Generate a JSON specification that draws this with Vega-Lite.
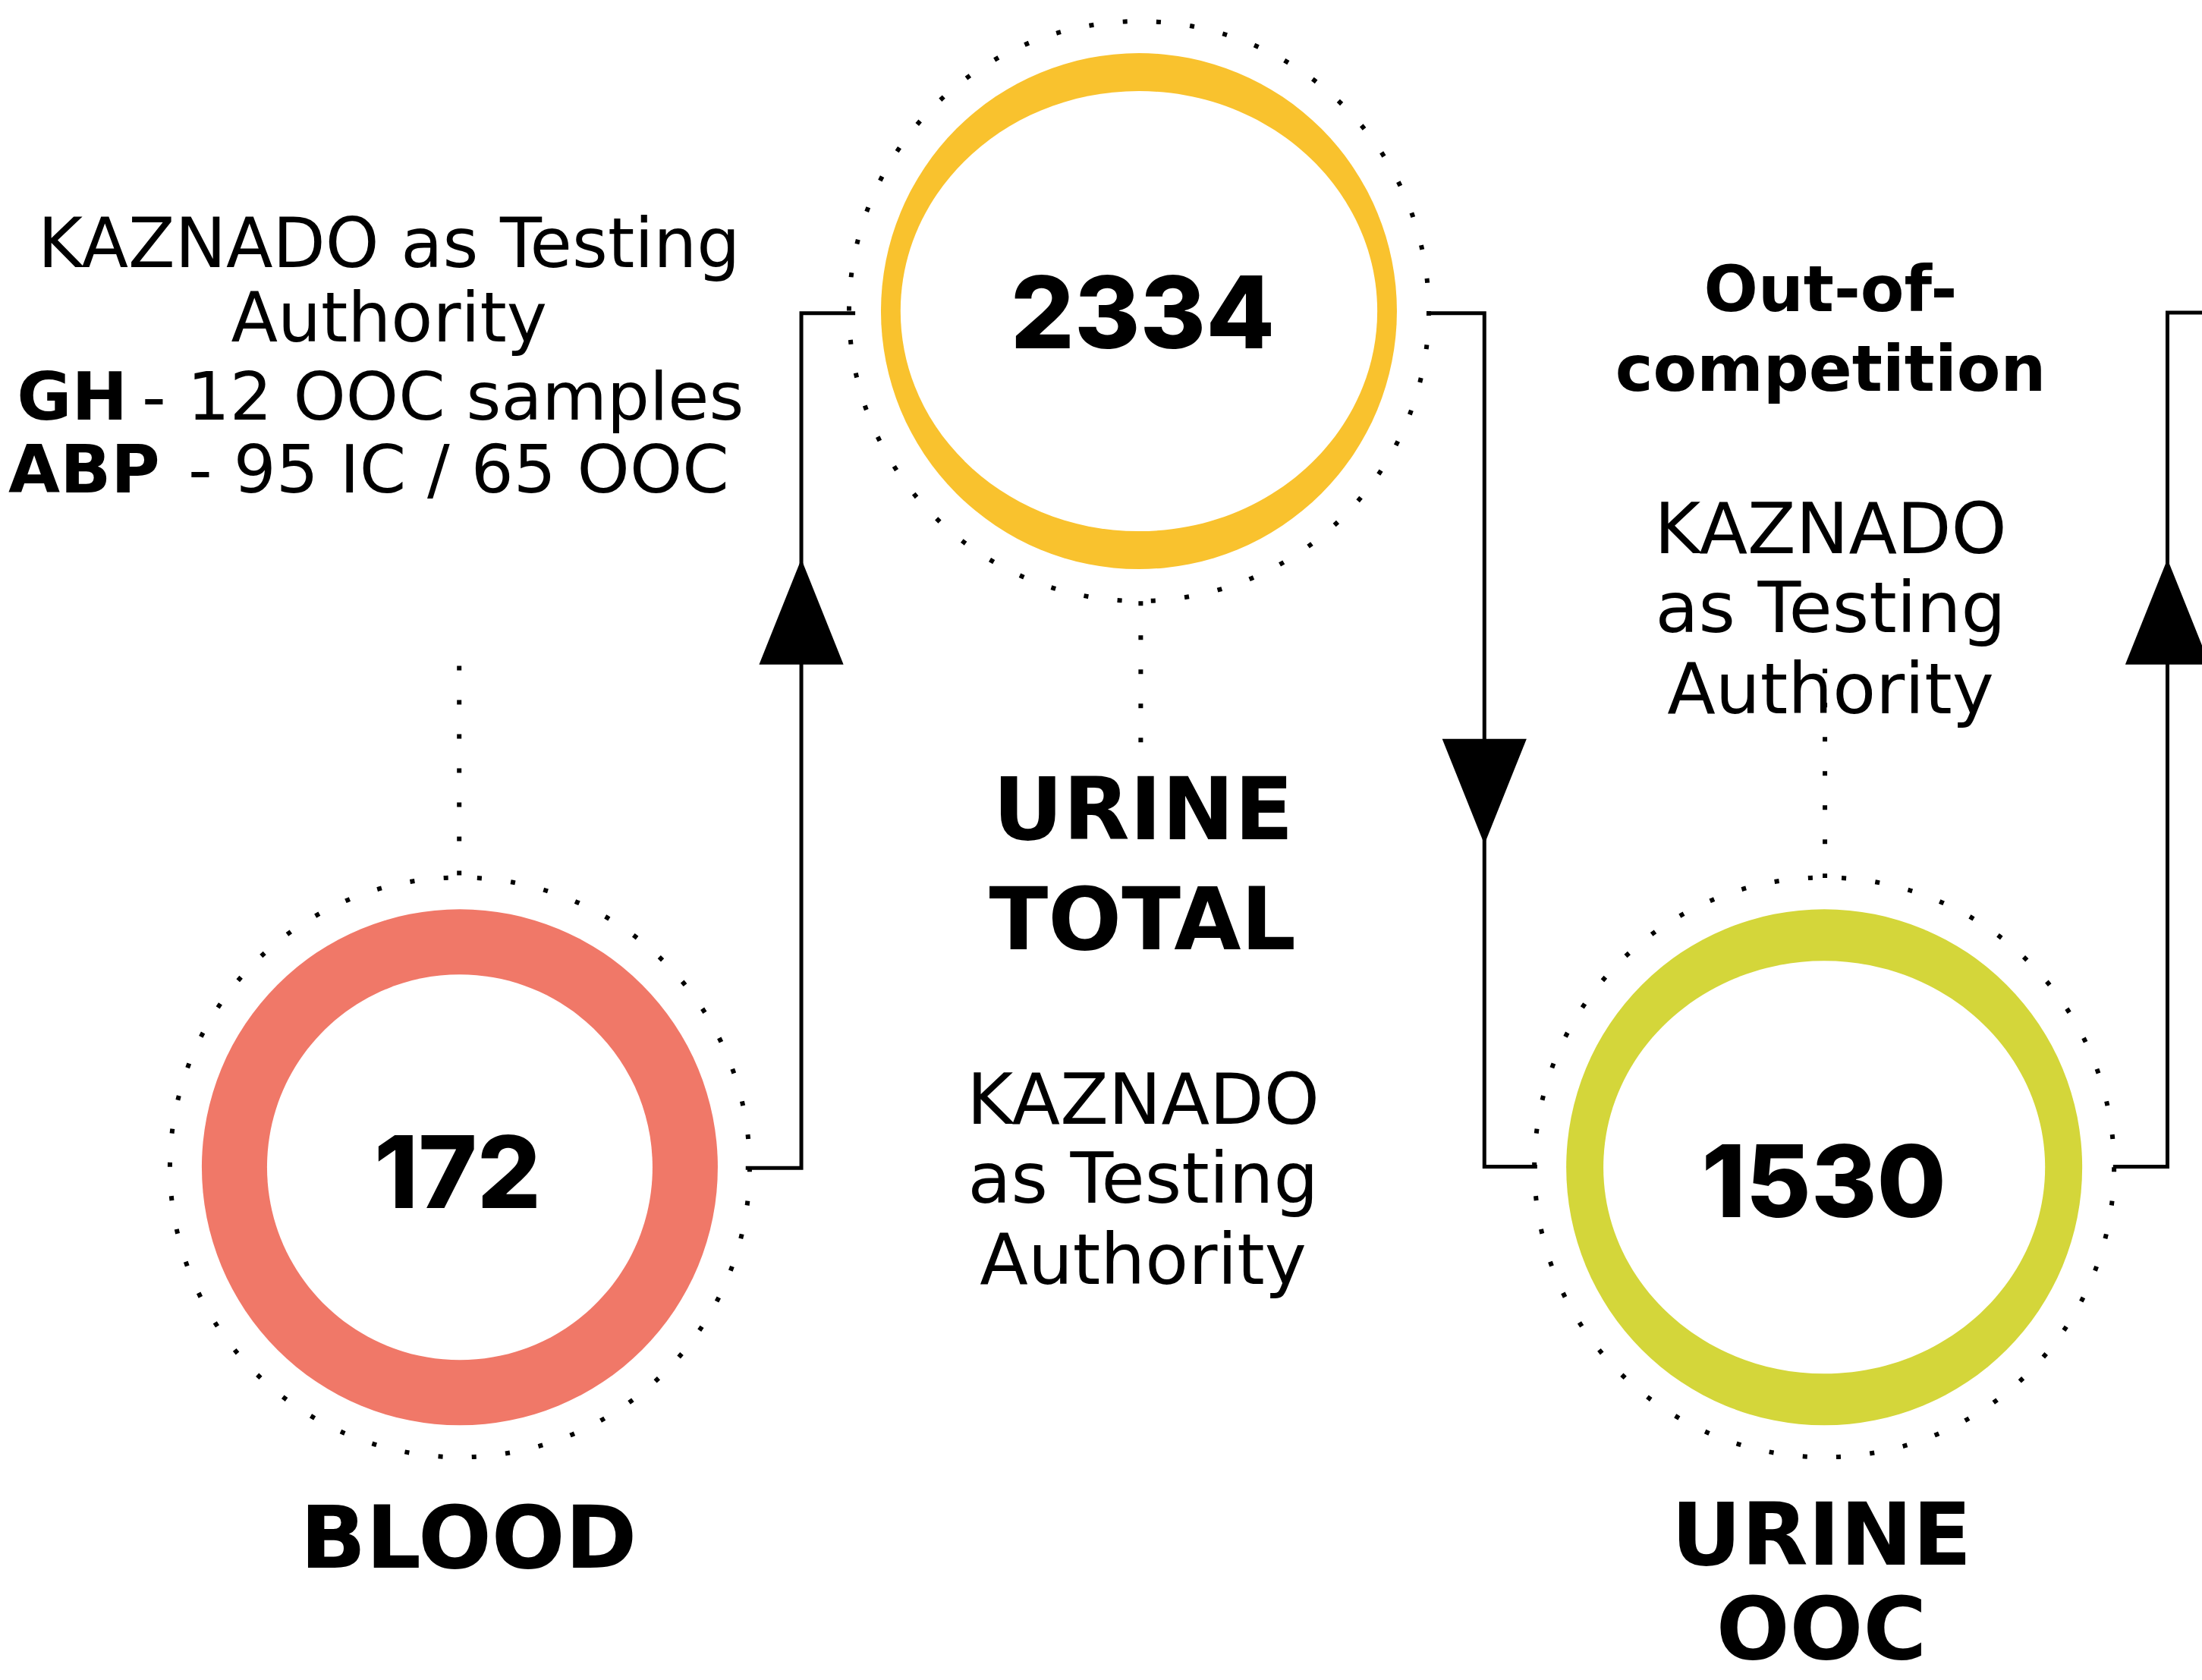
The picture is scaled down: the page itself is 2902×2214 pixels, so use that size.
{
  "$schema": "https://vega.github.io/schema/vega-lite/v6.json",
  "width": 2902,
  "height": 2214,
  "autosize": {"type": "none"},
  "padding": 0,
  "background": "white",
  "config": {"view": {"stroke": null}},
  "datasets": {
    "circles": [
      {"name": "BLOOD", "x": 327.4, "y": 831, "value": 172},
      {"name": "URINE TOTAL", "x": 811, "y": 221.5, "value": 2334},
      {"name": "URINE OOC", "x": 1299, "y": 831, "value": 1530}
    ],
    "numbers": [
      {"name": "BLOOD", "x": 325.8, "y": 860, "value": 172},
      {"name": "URINE TOTAL", "x": 813.7, "y": 248, "value": 2334},
      {"name": "URINE OOC", "x": 1298.8, "y": 866.6, "value": 1530}
    ],
    "dotlines": [
      {"x": 327, "y": 474, "y2": 625},
      {"x": 812.3, "y": 428, "y2": 531},
      {"x": 1299.5, "y": 476, "y2": 625}
    ],
    "connectors": [
      {"path": "A", "seq": 1, "x": 531, "y": 831.5},
      {"path": "A", "seq": 2, "x": 570.6, "y": 831.5},
      {"path": "A", "seq": 3, "x": 570.6, "y": 223},
      {"path": "A", "seq": 4, "x": 609, "y": 223},
      {"path": "B", "seq": 1, "x": 1018.6, "y": 223},
      {"path": "B", "seq": 2, "x": 1057, "y": 223},
      {"path": "B", "seq": 3, "x": 1057, "y": 830.5},
      {"path": "B", "seq": 4, "x": 1094.6, "y": 830.5},
      {"path": "C", "seq": 1, "x": 1504.7, "y": 830.5},
      {"path": "C", "seq": 2, "x": 1543.4, "y": 830.5},
      {"path": "C", "seq": 3, "x": 1543.4, "y": 222.5},
      {"path": "C", "seq": 4, "x": 1568, "y": 222.5}
    ],
    "arrows": [
      {"x": 570.6, "y": 435.5, "dir": "up"},
      {"x": 1057, "y": 563.5, "dir": "down"},
      {"x": 1543.4, "y": 435.5, "dir": "up"}
    ],
    "titles": [
      {"text": "BLOOD", "x": 333.6, "y": 1116},
      {"text": "URINE", "x": 814, "y": 597.5},
      {"text": "TOTAL", "x": 813.6, "y": 676},
      {"text": "URINE", "x": 1297, "y": 1114},
      {"text": "OOC", "x": 1297, "y": 1181}
    ],
    "subtitles": [
      {"text": "Out-of-", "x": 1303.5, "y": 221.5},
      {"text": "competition", "x": 1303.5, "y": 278}
    ],
    "notes": [
      {"text": "KAZNADO", "x": 814, "y": 800},
      {"text": "as Testing", "x": 814, "y": 856},
      {"text": "Authority", "x": 814, "y": 914},
      {"text": "KAZNADO", "x": 1303.5, "y": 394},
      {"text": "as Testing", "x": 1303.5, "y": 450},
      {"text": "Authority", "x": 1303.5, "y": 508}
    ],
    "leftnotes": [
      {"text": "KAZNADO as Testing", "x": 277, "y": 190},
      {"text": "Authority", "x": 277, "y": 243}
    ],
    "leftbold": [
      {"text": "GH", "x": 12, "y": 298.7},
      {"text": "ABP", "x": 6, "y": 350.6}
    ],
    "leftrest": [
      {"text": "- 12 OOC samples", "x": 101, "y": 298.7},
      {"text": "- 95 IC / 65 OOC", "x": 134, "y": 350.6}
    ]
  },
  "encoding": {
    "x": {"field": "x", "type": "quantitative", "scale": {"domain": [0, 1568], "nice": false, "zero": false}, "axis": null},
    "y": {"field": "y", "type": "quantitative", "scale": {"domain": [0, 1196], "nice": false, "zero": false, "reverse": true}, "axis": null}
  },
  "layer": [
    {
      "data": {"name": "circles"},
      "mark": {"type": "point", "shape": "circle", "filled": false, "stroke": "#000000", "strokeWidth": 6, "strokeDash": [6, 38.45], "strokeCap": "butt", "size": 583696, "opacity": 1}
    },
    {
      "data": {"name": "dotlines"},
      "mark": {"type": "rule", "stroke": "#000000", "strokeWidth": 6, "strokeDash": [6, 39], "strokeCap": "butt"},
      "encoding": {"y2": {"field": "y2"}}
    },
    {
      "data": {"name": "connectors"},
      "mark": {"type": "line", "stroke": "#000000", "strokeWidth": 5, "strokeJoin": "miter", "strokeCap": "butt"},
      "encoding": {"detail": {"field": "path", "type": "nominal"}, "order": {"field": "seq", "type": "quantitative"}}
    },
    {
      "data": {"name": "arrows"},
      "mark": {"type": "point", "filled": true, "color": "#000000", "opacity": 1, "size": 19321, "strokeWidth": 0},
      "encoding": {
        "shape": {"field": "dir", "type": "nominal", "scale": {"domain": ["up", "down"], "range": ["M0,-1L-0.8,1L0.8,1Z", "M0,1L-0.8,-1L0.8,-1Z"]}, "legend": null}
      }
    },
    {
      "data": {"name": "circles"},
      "mark": {"type": "point", "shape": "circle", "filled": true, "opacity": 1, "size": 462400, "strokeWidth": 0},
      "encoding": {
        "color": {"field": "name", "type": "nominal", "scale": {"domain": ["BLOOD", "URINE TOTAL", "URINE OOC"], "range": ["#F07868", "#F9C22E", "#D4D63A"]}, "legend": null}
      }
    },
    {
      "data": {"name": "circles"},
      "mark": {"type": "point", "filled": true, "color": "#ffffff", "opacity": 1, "size": 462400, "strokeWidth": 0},
      "encoding": {
        "shape": {"field": "name", "type": "nominal", "scale": {"domain": ["BLOOD", "URINE TOTAL", "URINE OOC"], "range": [
          "M-0.747,0A0.747,0.747 0 1,0 0.747,0A0.747,0.747 0 1,0 -0.747,0Z",
          "M-0.924,0A0.924,0.853 0 1,0 0.924,0A0.924,0.853 0 1,0 -0.924,0Z",
          "M-0.856,0A0.856,0.80 0 1,0 0.856,0A0.856,0.80 0 1,0 -0.856,0Z"
        ]}, "legend": null}
      }
    },
    {
      "data": {"name": "numbers"},
      "mark": {"type": "text", "font": "Inter", "fontWeight": 800, "fontSize": 132, "align": "center", "baseline": "alphabetic", "color": "#000000"},
      "encoding": {"text": {"field": "value", "type": "quantitative", "format": "d"}}
    },
    {
      "data": {"name": "titles"},
      "mark": {"type": "text", "font": "DejaVu Sans", "fontWeight": "bold", "fontSize": 114, "align": "center", "baseline": "alphabetic", "color": "#000000"},
      "encoding": {"text": {"field": "text", "type": "nominal"}}
    },
    {
      "data": {"name": "subtitles"},
      "mark": {"type": "text", "font": "DejaVu Sans", "fontWeight": "bold", "fontSize": 84, "align": "center", "baseline": "alphabetic", "color": "#000000"},
      "encoding": {"text": {"field": "text", "type": "nominal"}}
    },
    {
      "data": {"name": "notes"},
      "mark": {"type": "text", "font": "DejaVu Sans", "fontSize": 93, "align": "center", "baseline": "alphabetic", "color": "#000000"},
      "encoding": {"text": {"field": "text", "type": "nominal"}}
    },
    {
      "data": {"name": "leftnotes"},
      "mark": {"type": "text", "font": "DejaVu Sans", "fontSize": 90, "align": "center", "baseline": "alphabetic", "color": "#000000"},
      "encoding": {"text": {"field": "text", "type": "nominal"}}
    },
    {
      "data": {"name": "leftbold"},
      "mark": {"type": "text", "font": "DejaVu Sans", "fontWeight": "bold", "fontSize": 88, "align": "left", "baseline": "alphabetic", "color": "#000000"},
      "encoding": {"text": {"field": "text", "type": "nominal"}}
    },
    {
      "data": {"name": "leftrest"},
      "mark": {"type": "text", "font": "DejaVu Sans", "fontSize": 88, "align": "left", "baseline": "alphabetic", "color": "#000000"},
      "encoding": {"text": {"field": "text", "type": "nominal"}}
    }
  ],
  "resolve": {"scale": {"shape": "independent", "color": "independent"}}
}
